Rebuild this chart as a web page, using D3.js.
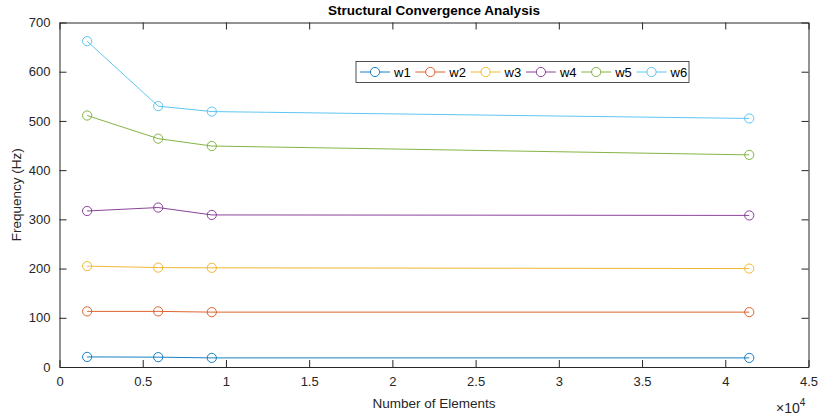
<!DOCTYPE html>
<html>
<head>
<meta charset="utf-8">
<script src="https://cdn.jsdelivr.net/npm/d3@7/dist/d3.min.js"></script>
<style>
  html, body { margin: 0; padding: 0; background: #fff; }
  svg { display: block; font-family: "Liberation Sans", Arial, Helvetica, sans-serif; }
</style>
</head>
<body>
<svg id="chart" width="820" height="419"></svg>
<script>
// Mesh sizes (number of elements) and natural frequencies per mode
const elements = [1660, 5930, 9150, 41440];
const w1 = [20.5, 20, 18.5, 18.5];
const w2 = [113, 113, 111.5, 111.5];
const w3 = [205, 202, 201.5, 200];
const w4 = [317, 324, 309, 308];
const w5 = [511, 464, 449, 431];
const w6 = [662, 530, 519, 505];

const seriesNames = ["w1", "w2", "w3", "w4", "w5", "w6"];
const seriesValues = [w1, w2, w3, w4, w5, w6];
const seriesColors = ["#0072BD", "#D95319", "#EDB120", "#7E2F8E", "#77AC30", "#4DBEEE"];

const xTicks = [0, 0.5, 1, 1.5, 2, 2.5, 3, 3.5, 4, 4.5];
const yTicks = [0, 100, 200, 300, 400, 500, 600, 700];

const svg = d3.select("#chart");
const m = { left: 59.5, right: 808.5, top: 22.5, bottom: 367 };
const axisColor = "#262626";

const x = d3.scaleLinear().domain([0, 45000]).range([m.left, m.right]);
const y = d3.scaleLinear().domain([0, 700]).range([m.bottom, m.top]);

// Axes with ticks inside, mirrored on top/right
const tickLen = 7;
const xAxisB = d3.axisBottom(x).tickValues(xTicks.map(t => t * 1e4))
  .tickSizeInner(-tickLen).tickSizeOuter(0).tickPadding(10)
  .tickFormat(d => d3.format("")(+(d / 1e4).toFixed(1)));
const xAxisT = d3.axisTop(x).tickValues(xTicks.map(t => t * 1e4))
  .tickSizeInner(-tickLen).tickSizeOuter(0).tickFormat("");
const yAxisL = d3.axisLeft(y).tickValues(yTicks)
  .tickSizeInner(-tickLen).tickSizeOuter(0).tickPadding(9);
const yAxisR = d3.axisRight(y).tickValues(yTicks)
  .tickSizeInner(-tickLen).tickSizeOuter(0).tickFormat("");

function styleAxis(g) {
  g.select(".domain").attr("stroke", axisColor).attr("stroke-width", 1);
  g.selectAll(".tick line").attr("stroke", axisColor).attr("stroke-width", 1);
  g.selectAll(".tick text").attr("fill", axisColor).attr("font-size", 13)
    .attr("font-family", "Liberation Sans, Arial, sans-serif");
}

svg.append("g").attr("transform", `translate(0,${m.bottom})`).call(xAxisB).call(styleAxis);
svg.append("g").attr("transform", `translate(0,${m.top})`).call(xAxisT).call(styleAxis);
svg.append("g").attr("transform", `translate(${m.left},0)`).call(yAxisL).call(styleAxis);
svg.append("g").attr("transform", `translate(${m.right},0)`).call(yAxisR).call(styleAxis);

// Series lines and circle markers
const line = d3.line().x((d, i) => x(elements[i])).y(d => y(d));
seriesValues.forEach((vals, k) => {
  const g = svg.append("g");
  g.append("path").datum(vals).attr("d", line)
    .attr("fill", "none").attr("stroke", seriesColors[k]).attr("stroke-width", 0.9);
  g.selectAll("circle").data(vals).enter().append("circle")
    .attr("cx", (d, i) => x(elements[i])).attr("cy", d => y(d)).attr("r", 4.6)
    .attr("fill", "none").attr("stroke", seriesColors[k]).attr("stroke-width", 0.9);
});

// Title and axis labels
svg.append("text").attr("x", (m.left + m.right) / 2).attr("y", 15)
  .attr("text-anchor", "middle").attr("font-weight", "bold").attr("font-size", 13.5)
  .attr("fill", "#000").text("Structural Convergence Analysis");

svg.append("text").attr("x", (m.left + m.right) / 2).attr("y", 408)
  .attr("text-anchor", "middle").attr("font-size", 13.5).attr("fill", axisColor)
  .text("Number of Elements");

svg.append("text").attr("transform", `translate(21,${(m.top + m.bottom) / 2}) rotate(-90)`)
  .attr("text-anchor", "middle").attr("font-size", 13.5).attr("fill", axisColor)
  .text("Frequency (Hz)");

const exp = svg.append("text").attr("x", 776).attr("y", 413).attr("fill", axisColor).attr("font-size", 14);
exp.append("tspan").text("\u00d710");
exp.append("tspan").attr("dy", -7).attr("font-size", 10).text("4");

// Legend
const lg = svg.append("g");
const lx0 = 356, ly0 = 61.5, lw = 333, lh = 21;
lg.append("rect").attr("x", lx0).attr("y", ly0).attr("width", lw).attr("height", lh)
  .attr("fill", "#fff").attr("stroke", "#262626").attr("stroke-width", 0.8);
const itemW = 55.3;
seriesNames.forEach((name, k) => {
  const ix = lx0 + 4 + k * itemW;
  const cy = ly0 + lh / 2;
  lg.append("line").attr("x1", ix).attr("x2", ix + 30).attr("y1", cy).attr("y2", cy)
    .attr("stroke", seriesColors[k]).attr("stroke-width", 0.9);
  lg.append("circle").attr("cx", ix + 15).attr("cy", cy).attr("r", 4.6)
    .attr("fill", "#fff").attr("stroke", seriesColors[k]).attr("stroke-width", 0.9);
  lg.append("text").attr("x", ix + 34).attr("y", cy + 4.5).attr("font-size", 13)
    .attr("fill", "#000").text(name);
});
</script>
</body>
</html>
